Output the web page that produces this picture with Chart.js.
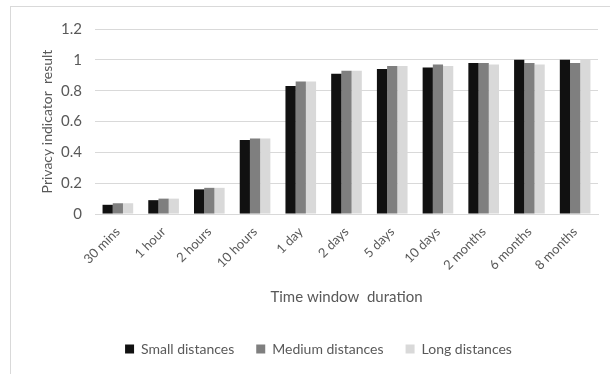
<!DOCTYPE html>
<html>
<head>
<meta charset="utf-8">
<script src="https://cdn.jsdelivr.net/npm/chart.js@4"></script>
<style>
  html, body { margin: 0; padding: 0; background: #fff; }
  #wrap { position: relative; width: 610px; height: 374px; overflow: hidden; }
  #frame { position: absolute; left: 10px; top: 6px; width: 620px; height: 400px;
           border-left: 1px solid #d9d9d9; border-top: 1px solid #d9d9d9; }
  canvas { position: absolute; left: 0; top: 0; }
</style>
</head>
<body>
<div id="wrap">
  <div id="frame"></div>
  <canvas id="chart" width="610" height="374"></canvas>
</div>
<script>
// categories and values
const durations = ['30 mins', '1 hour', '2 hours', '10 hours', '1 day', '2 days', '5 days', '10 days', '2 months', '6 months', '8 months'];
const smallDistances = [0.06, 0.09, 0.16, 0.48, 0.83, 0.91, 0.94, 0.95, 0.98, 1.0, 1.0];
const mediumDistances = [0.07, 0.10, 0.17, 0.49, 0.86, 0.93, 0.96, 0.97, 0.98, 0.98, 0.98];
const longDistances = [0.07, 0.10, 0.17, 0.49, 0.86, 0.93, 0.96, 0.96, 0.97, 0.97, 1.0];
const yTicks = [0, 0.2, 0.4, 0.6, 0.8, 1, 1.2];

const textColor = '#595959';
const fontFamily = 'Lato, "Open Sans", sans-serif';

new Chart(document.getElementById('chart'), {
    type: 'bar',
    data: {
        labels: durations,
        datasets: [
            { label: 'Small distances', data: smallDistances, backgroundColor: '#111111' },
            { label: 'Medium distances', data: mediumDistances, backgroundColor: '#7f7f7f' },
            { label: 'Long distances', data: longDistances, backgroundColor: '#d9d9d9' }
        ]
    },
    options: {
        responsive: false,
        animation: false,
        datasets: {
            bar: { categoryPercentage: 0.67, barPercentage: 1.0 }
        },
        layout: { padding: { top: 29, right: 12, left: 39, bottom: 8 } },
        plugins: {
            tooltip: { enabled: false },
            legend: {
                position: 'bottom',
                labels: {
                    color: textColor,
                    font: { family: fontFamily, size: 14 },
                    boxWidth: 9,
                    boxHeight: 9,
                    padding: 22
                }
            }
        },
        scales: {
            x: {
                grid: { display: false },
                border: { display: true, color: '#d9d9d9' },
                ticks: {
                    color: textColor,
                    font: { family: fontFamily, size: 13 },
                    minRotation: 45,
                    maxRotation: 45,
                    padding: 2
                },
                title: {
                    display: true,
                    text: 'Time window  duration',
                    color: textColor,
                    font: { family: fontFamily, size: 15 },
                    padding: { top: 13, bottom: 14 }
                }
            },
            y: {
                min: 0,
                max: 1.2,
                afterBuildTicks: axis => { axis.ticks = yTicks.map(v => ({ value: v })); },
                // fixed axis width so the plot starts where the reference one does
                afterFit: axis => { axis.width = 56; },
                grid: { color: '#d9d9d9', lineWidth: 1, drawTicks: false },
                border: { display: false },
                ticks: {
                    color: textColor,
                    font: { family: fontFamily, size: 15 },
                    padding: 13,
                    callback: v => String(Math.round(v * 10) / 10)
                },
                title: {
                    display: true,
                    text: 'Privacy indicator  result',
                    color: textColor,
                    font: { family: fontFamily, size: 14 },
                    padding: { top: 0, bottom: 4 }
                }
            }
        }
    }
});
</script>
</body>
</html>
